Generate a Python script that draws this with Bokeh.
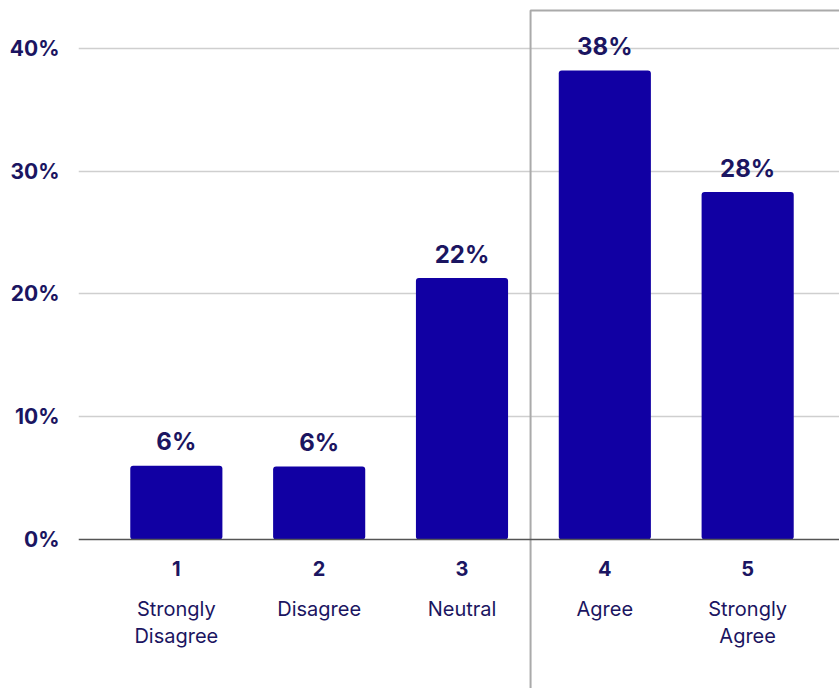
from bokeh.plotting import figure
from bokeh.models import FixedTicker, CustomJSTickFormatter, Span, ColumnDataSource
from bokeh.core.properties import value
from bokeh.embed import file_html
from bokeh.resources import INLINE

# ---- data ----
categories = [1, 2, 3, 4, 5]
category_names = ["Strongly\nDisagree", "Disagree", "Neutral", "Agree", "Strongly\nAgree"]
percent_values = [6.0, 5.95, 21.3, 38.2, 28.3]
value_labels = ["6%", "6%", "22%", "38%", "28%"]
y_ticks = [0, 10, 20, 30, 40]

FONT = "Inter"
TEXT_COLOR = "#1b1561"
BAR_COLOR = "#1100a3"

p = figure(width=839, height=688, output_backend="svg", toolbar_location=None,
           x_range=(0.315, 5.643), y_range=(-12.14, 43.91),
           min_border_left=78, min_border_right=0, min_border_top=0, min_border_bottom=0)
p.outline_line_color = None
p.background_fill_color = "white"
p.border_fill_color = "white"

p.xaxis.visible = False
p.xgrid.visible = False

yax = p.yaxis[0]
yax.ticker = FixedTicker(ticks=y_ticks)
yax.formatter = CustomJSTickFormatter(code="return tick + '%';")
yax.axis_line_color = None
yax.major_tick_line_color = None
yax.minor_tick_line_color = None
yax.major_tick_out = 0
yax.major_tick_in = 0
yax.major_label_standoff = 19
yax.major_label_text_font = FONT
yax.major_label_text_font_style = "bold"
yax.major_label_text_font_size = "21px"
yax.major_label_text_color = TEXT_COLOR

p.ygrid.ticker = FixedTicker(ticks=[t for t in y_ticks if t != 0])
p.ygrid.grid_line_color = "#cfcfcf"
p.ygrid.grid_line_width = 1.5

src = ColumnDataSource(dict(x=categories, top=percent_values, lab=value_labels,
                            num=[str(c) for c in categories], name=category_names,
                            zero=[0] * len(categories)))

# highlight box around the "agree" side
p.quad(left=3.48, right=7, top=43.1, bottom=-30, fill_color=None,
       line_color="#aaaaaa", line_width=2)

p.vbar(x="x", top="top", width=0.645, source=src, fill_color=BAR_COLOR,
       line_color=None, border_radius=3)

p.add_layout(Span(location=0, dimension="width", line_color="#555555", line_width=1.5))

p.text(x="x", y="top", text="lab", source=src, text_align="center",
       text_baseline="alphabetic", y_offset=-24, text_font=value(FONT),
       text_font_style="bold", text_font_size="24px", text_color=TEXT_COLOR)

p.text(x="x", y="zero", text="num", source=src, text_align="center",
       text_baseline="middle", y_offset=29, text_font=value(FONT),
       text_font_style="bold", text_font_size="20px", text_color=TEXT_COLOR)

p.text(x="x", y="zero", text="name", source=src, text_align="center",
       text_baseline="top", y_offset=58, text_font=value(FONT),
       text_font_size="20px", text_line_height=1.1, text_color=TEXT_COLOR)

open("out.html", "w").write(file_html(p, INLINE))
